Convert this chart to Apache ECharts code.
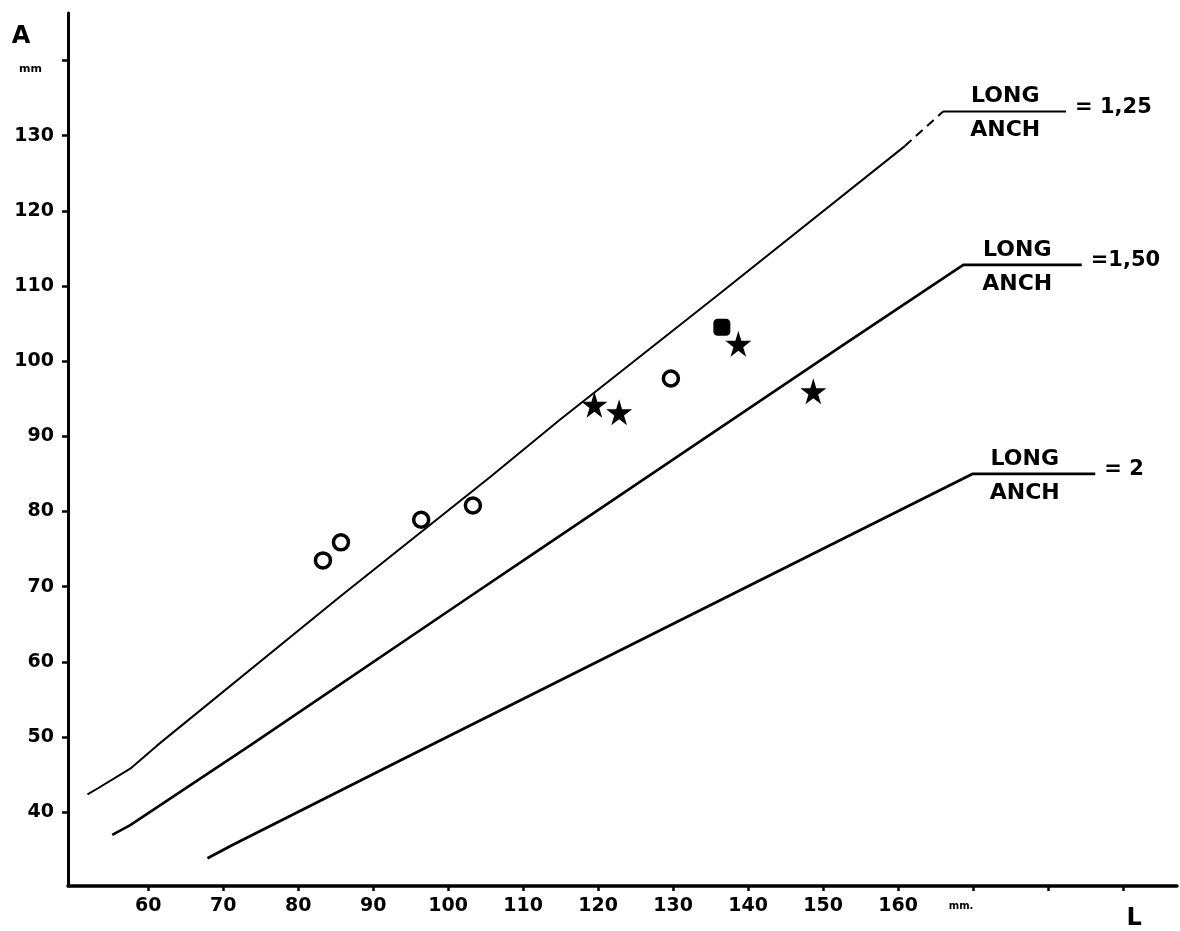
<!DOCTYPE html>
<html>
<head>
<meta charset="utf-8">
<script src="https://cdn.jsdelivr.net/npm/echarts@6.0.0/dist/echarts.min.js"></script>
<style>
  html, body { margin: 0; padding: 0; background: #fff; }
  #main { width: 1180px; height: 931px; }
</style>
</head>
<body>
<div id="main"></div>
<script>
// tick positions and labels
var xTicks = [60, 70, 80, 90, 100, 110, 120, 130, 140, 150, 160, 170, 180, 190];
var xLabelValues = [60, 70, 80, 90, 100, 110, 120, 130, 140, 150, 160, 170, 191.5];
var yTicks = [40, 50, 60, 70, 80, 90, 100, 110, 120, 130, 140];

// LONG/ANCH = 1,25 line (hand drawn)
var ratio125 = [[51.9, 42.4], [53.3, 43.2], [57.6, 45.8], [61.2, 48.9], [85.6, 68.7], [105.6, 84.6], [114.9, 92.2], [135.6, 108.5], [160.9, 128.6]];
var ratio125Dash = [[160.9, 128.6], [166.0, 133.2]];
var ratio125Flat = [[166.0, 133.2], [182.4, 133.2]];
// LONG/ANCH = 1,50
var ratio150 = [[55.2, 37.0], [57.6, 38.3], [73.6, 48.9], [102.9, 68.7], [109.6, 73.2], [132.5, 88.6], [152.3, 101.9], [168.7, 112.8], [184.5, 112.8]];
// LONG/ANCH = 2
var ratio200 = [[67.9, 33.9], [71.3, 35.7], [93.6, 46.9], [169.9, 85.0], [186.3, 85.0]];

// specimens
var circles = [[83.3, 73.5], [85.7, 75.9], [96.4, 78.9], [103.3, 80.8], [129.7, 97.7]];
var stars = [[119.5, 94.2], [122.8, 93.2], [138.7, 102.3], [148.7, 96.0]];
var squares = [[136.5, 104.5]];

// ratio captions
var fractionPos = [[174.3, 133.2], [175.9, 112.8], [176.9, 85.0]];
var ratioEnds = [[182.4, 133.2, '= 1,25'], [184.5, 112.8, '=1,50'], [186.3, 85.0, '= 2']];

var FONT = 'DejaVu Sans';
var starPath = 'path://M50,0 L61,35 L98,35 L68,57 L79,91 L50,70 L21,91 L32,57 L2,35 L39,35 Z';

var myChart = echarts.init(document.getElementById('main'));
var option = {
    animation: false,
    backgroundColor: '#fff',
    grid: {
        left: 68,
        right: 3,
        top: 13,
        bottom: 42
    },
    xAxis: {
        type: 'value',
        min: 49.3,
        max: 197.2,
        splitLine: { show: false },
        axisLine: { lineStyle: { color: '#000', width: 3.5 } },
        axisTick: { customValues: xTicks, length: 5, lineStyle: { color: '#000', width: 2.5 } },
        axisLabel: {
            customValues: xLabelValues,
            margin: 11,
            color: '#000',
            fontFamily: FONT,
            fontWeight: 'bold',
            fontSize: 19,
            formatter: function (v) {
                if (v === 170) return '{u|mm.}';
                if (v > 190) return '{big|L}';
                return String(v);
            },
            rich: {
                u: { fontFamily: FONT, fontWeight: 'bold', fontSize: 10, color: '#000', padding: [4, 24, 0, 0] },
                big: { fontFamily: FONT, fontWeight: 'bold', fontSize: 24, color: '#000', padding: [10, 0, 0, 0] }
            }
        }
    },
    yAxis: {
        type: 'value',
        min: 30.2,
        max: 146.3,
        name: 'A',
        nameLocation: 'end',
        nameGap: -24,
        nameTextStyle: {
            color: '#000', fontFamily: FONT, fontWeight: 'bold', fontSize: 24,
            align: 'center', verticalAlign: 'middle', padding: [0, 94, 0, 0]
        },
        splitLine: { show: false },
        axisLine: { lineStyle: { color: '#000', width: 3 } },
        axisTick: { customValues: yTicks, length: 6, lineStyle: { color: '#000', width: 2.5 } },
        axisLabel: {
            customValues: yTicks,
            margin: 14,
            color: '#000',
            fontFamily: FONT,
            fontWeight: 'bold',
            fontSize: 19,
            formatter: function (v) {
                if (v === 140) return '{u|mm}';
                return String(v);
            },
            rich: {
                u: { fontFamily: FONT, fontWeight: 'bold', fontSize: 11, color: '#000', padding: [18, 12, 0, 0] }
            }
        }
    },
    series: [
        {
            name: '1,25', type: 'line', data: ratio125, symbol: 'none', silent: true,
            lineStyle: { color: '#000', width: 2 }
        },
        {
            name: '1,25 dash', type: 'line', data: ratio125Dash, symbol: 'none', silent: true,
            lineStyle: { color: '#000', width: 2, type: [9, 6] }
        },
        {
            name: '1,25 flat', type: 'line', data: ratio125Flat, symbol: 'none', silent: true,
            lineStyle: { color: '#000', width: 2 }
        },
        {
            name: '1,50', type: 'line', data: ratio150, symbol: 'none', silent: true,
            lineStyle: { color: '#000', width: 2.6 }
        },
        {
            name: '2', type: 'line', data: ratio200, symbol: 'none', silent: true,
            lineStyle: { color: '#000', width: 2.8 }
        },
        {
            name: 'circles', type: 'scatter', data: circles, symbol: 'circle', symbolSize: 15,
            itemStyle: { color: '#fff', borderColor: '#000', borderWidth: 3.5, opacity: 1 }, z: 5
        },
        {
            name: 'squares', type: 'scatter', data: squares, symbol: 'roundRect', symbolSize: 17,
            itemStyle: { color: '#000', opacity: 1 }, z: 5
        },
        {
            name: 'stars', type: 'scatter', data: stars, symbol: starPath, symbolSize: 26,
            itemStyle: { color: '#000', opacity: 1 }, z: 6
        },
        {
            name: 'fractions', type: 'scatter', data: fractionPos, symbolSize: 0, silent: true,
            itemStyle: { opacity: 1 },
            label: {
                show: true,
                position: 'inside',
                offset: [0, 2],
                color: '#000',
                formatter: '{t|LONG}\n{t|ANCH}',
                rich: {
                    t: { fontFamily: FONT, fontWeight: 'bold', fontSize: 22, color: '#000', lineHeight: 34, align: 'center' }
                }
            }
        },
        {
            name: 'ratios', type: 'scatter', data: ratioEnds, symbolSize: 0, silent: true,
            itemStyle: { opacity: 1 },
            label: {
                show: true,
                position: 'right',
                distance: 9,
                offset: [0, -4],
                color: '#000',
                fontFamily: FONT,
                fontWeight: 'bold',
                fontSize: 21,
                formatter: function (p) { return p.data[2]; }
            }
        }
    ]
};
myChart.setOption(option);
</script>
</body>
</html>
